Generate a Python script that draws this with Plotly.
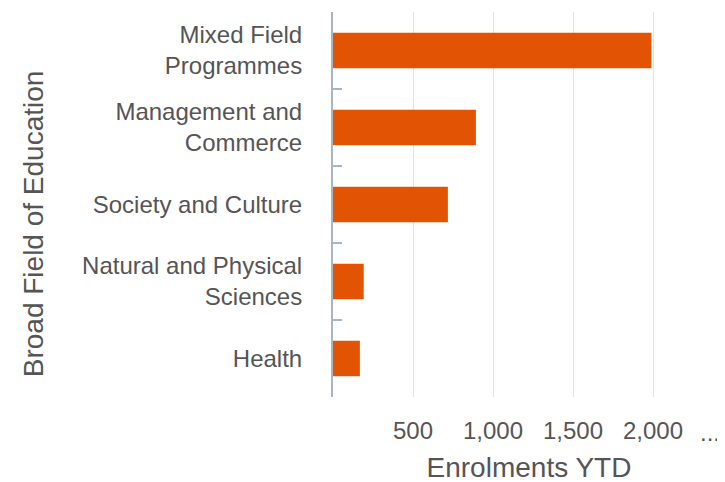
"""Enrolments YTD by broad field of education."""

import plotly.graph_objects as go

FIELDS = [
    "Mixed Field<br>Programmes",
    "Management and<br>Commerce",
    "Society and Culture",
    "Natural and Physical<br>Sciences",
    "Health",
]
ENROLMENTS = [1990, 893, 718, 192, 168]

X_TICKS = [500, 1000, 1500, 2000]
X_TICK_TEXT = ["500", "1,000", "1,500", "2,000"]

FONT = "Liberation Sans, Arial, sans-serif"
TEXT = "#555555"
AXIS_LINE = "#A8B6C3"

fig = go.Figure(
    go.Bar(
        x=ENROLMENTS,
        y=FIELDS,
        orientation="h",
        marker={"color": "#E25303", "line": {"width": 0}},
        width=0.46,
    )
)

# the page body adds 8px, so margins are offset to land where the reference is
fig.update_layout(
    width=725,
    height=482,
    margin={"l": 325, "r": 8, "t": 4, "b": 93},
    plot_bgcolor="white",
    paper_bgcolor="white",
    showlegend=False,
    font={"family": FONT, "color": TEXT, "size": 24},
)

fig.update_xaxes(
    range=[0, 2450],
    automargin=False,
    tickvals=X_TICKS,
    ticktext=X_TICK_TEXT,
    showgrid=True,
    gridcolor="#E3E3E3",
    gridwidth=1,
    zeroline=False,
    showline=False,
    ticks="",
    ticklabelstandoff=17,
    tickfont={"size": 24, "color": TEXT},
    title={"text": "Enrolments YTD", "font": {"size": 28, "color": TEXT}, "standoff": 14},
)

fig.update_yaxes(
    autorange="reversed",
    automargin=False,
    showgrid=False,
    showline=True,
    linecolor=AXIS_LINE,
    linewidth=2,
    ticks="inside",
    tickson="boundaries",
    ticklen=9,
    tickcolor=AXIS_LINE,
    tickwidth=2,
    ticklabelstandoff=24,
    tickfont={"size": 24, "color": TEXT},
)

# y title sits a little below the plot centre in the reference
fig.add_annotation(
    text="Broad Field of Education",
    textangle=-90,
    xref="paper",
    yref="paper",
    x=-0.765,
    y=0.449,
    xanchor="center",
    yanchor="middle",
    showarrow=False,
    font={"size": 28, "color": TEXT},
)

# truncated last tick label shown as dots at the right edge
fig.add_annotation(
    text="...",
    xref="paper",
    yref="paper",
    x=0.992,
    y=0,
    xanchor="right",
    yanchor="top",
    yshift=-20,
    showarrow=False,
    font={"size": 24, "color": TEXT},
)

fig.write_html("out.html")
